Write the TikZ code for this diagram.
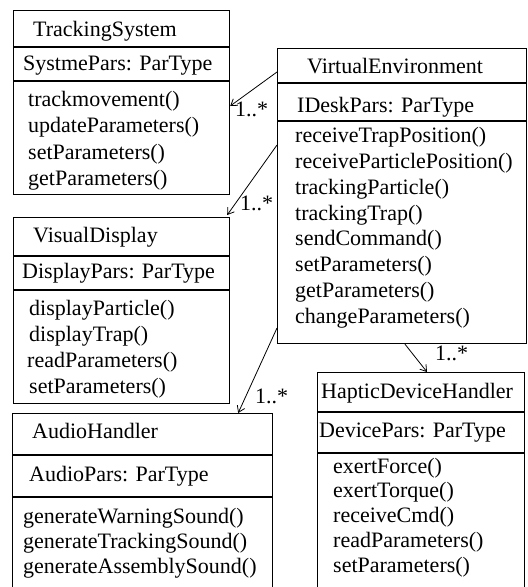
\documentclass[tikz,border=0pt]{standalone}
\usepackage{fontspec}
\setmainfont{Liberation Serif}
\usetikzlibrary{arrows.meta}
\tikzset{
  umlbox/.style={draw, line width=1.2pt, inner sep=0pt, rectangle, anchor=north west},
  sepline/.style={line width=1.2pt},
  txt/.style={anchor=base west, inner sep=0pt, font=\fontsize{22pt}{26pt}\selectfont},
  assoc/.style={line width=0.8pt, -{Straight Barb[length=6pt,width=8pt]}},
}
\begin{document}
\begin{tikzpicture}[x=1pt,y=-1pt]
\clip (0,0) rectangle (528,587);
\fill[white] (0,0) rectangle (528,587);
% boxes
\node[umlbox, minimum width=216pt, minimum height=184pt] (ts) at (13,10) {};
\node[umlbox, minimum width=249pt, minimum height=295pt] (ve) at (277,48) {};
\node[umlbox, minimum width=216pt, minimum height=186pt] (vd) at (13,217) {};
\node[umlbox, minimum width=260pt, minimum height=190pt] (ah) at (12,413) {};
\node[umlbox, minimum width=207pt, minimum height=230pt] (hd) at (317,372) {};
% separators
\draw[sepline] (ts.west |- 0,47) -- (ts.east |- 0,47);
\draw[sepline] (ts.west |- 0,81) -- (ts.east |- 0,81);
\draw[sepline] (ve.west |- 0,83) -- (ve.east |- 0,83);
\draw[sepline] (ve.west |- 0,121) -- (ve.east |- 0,121);
\draw[sepline] (vd.west |- 0,256) -- (vd.east |- 0,256);
\draw[sepline] (vd.west |- 0,290) -- (vd.east |- 0,290);
\draw[sepline] (ah.west |- 0,455) -- (ah.east |- 0,455);
\draw[sepline] (ah.west |- 0,497) -- (ah.east |- 0,497);
\draw[sepline] (hd.west |- 0,412) -- (hd.east |- 0,412);
\draw[sepline] (hd.west |- 0,453) -- (hd.east |- 0,453);
% TrackingSystem
\node[txt] (ts1) at (33,36) {TrackingSystem};
\node[txt] (ts2) at (23,70) {SystmePars: ParType};
\node[txt] (ts3) at (28,106) {trackmovement()};
\node[txt] (ts4) at (28,132.5) {updateParameters()};
\node[txt] (ts5) at (28,159) {setParameters()};
\node[txt] (ts6) at (28,185.5) {getParameters()};
% VirtualEnvironment
\node[txt] (ve1) at (307,73) {VirtualEnvironment};
\node[txt] (ve2) at (297,112) {IDeskPars: ParType};
\node[txt] (ve3) at (295,142) {receiveTrapPosition()};
\node[txt] (ve4) at (295,168) {receiveParticlePosition()};
\node[txt] (ve5) at (295,194) {trackingParticle()};
\node[txt] (ve6) at (295,220) {trackingTrap()};
\node[txt] (ve7) at (295,245.5) {sendCommand()};
\node[txt] (ve8) at (295,271.5) {setParameters()};
\node[txt] (ve9) at (295,297) {getParameters()};
\node[txt] (ve10) at (295,323) {changeParameters()};
% VisualDisplay
\node[txt] (vd1) at (33,242) {VisualDisplay};
\node[txt] (vd2) at (22,278) {DisplayPars: ParType};
\node[txt] (vd3) at (29,315) {displayParticle()};
\node[txt] (vd4) at (29,341) {displayTrap()};
\node[txt] (vd5) at (27,367) {readParameters()};
\node[txt] (vd6) at (29,393) {setParameters()};
% AudioHandler
\node[txt] (ah1) at (32,438) {AudioHandler};
\node[txt] (ah2) at (29,481) {AudioPars: ParType};
\node[txt] (ah3) at (23,523) {generateWarningSound()};
\node[txt] (ah4) at (23,548) {generateTrackingSound()};
\node[txt] (ah5) at (23,573) {generateAssemblySound()};
% HapticDeviceHandler
\node[txt] (hd1) at (321,398) {HapticDeviceHandler};
\node[txt] (hd2) at (319,437) {DevicePars: ParType};
\node[txt] (hd3) at (333,473) {exertForce()};
\node[txt] (hd4) at (333,497.5) {exertTorque()};
\node[txt] (hd5) at (333,522) {receiveCmd()};
\node[txt] (hd6) at (333,547) {readParameters()};
\node[txt] (hd7) at (333,572) {setParameters()};
% associations
\draw[assoc] ([yshift=-24pt]ve.north west) -- ([yshift=-96pt]ts.north east);
\draw[assoc] ([yshift=-97pt]ve.north west) -- ([xshift=-3pt,yshift=2pt]vd.north east);
\draw[assoc] ([yshift=-280pt]ve.north west) -- ([xshift=-35pt]ah.north east);
\draw[assoc] ([xshift=128pt]ve.south west) -- ([xshift=110pt]hd.north west);
% multiplicities
\node[txt] (m1) at (235,116) {1..*};
\node[txt] (m2) at (240,210) {1..*};
\node[txt] (m3) at (255,403) {1..*};
\node[txt] (m4) at (435,360) {1..*};
\end{tikzpicture}
\end{document}
